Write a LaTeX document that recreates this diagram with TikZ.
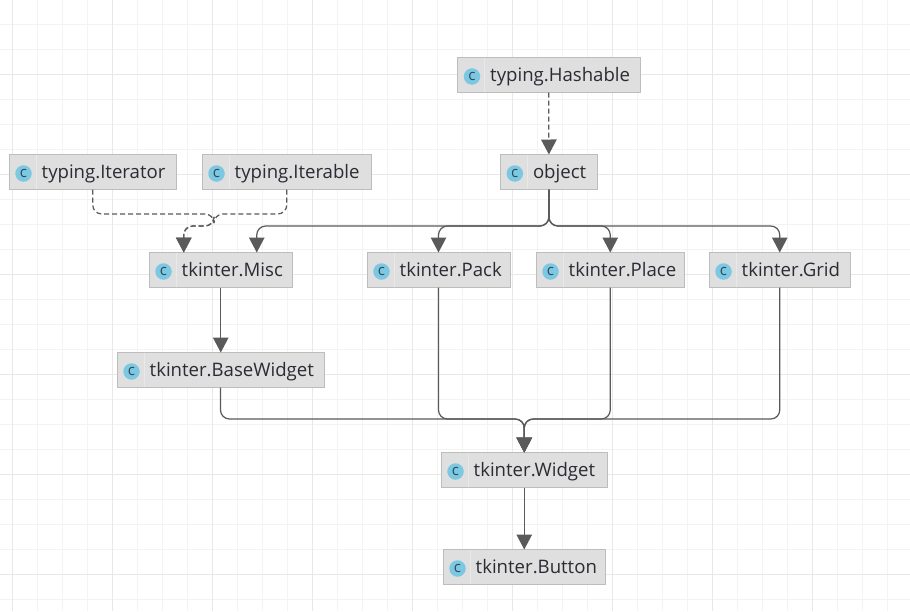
\documentclass[tikz,border=0pt]{standalone}
\usepackage{fontspec}
\setmainfont{Open Sans}
\usetikzlibrary{arrows.meta,calc}
\definecolor{gridmajor}{HTML}{E8E8E8}
\definecolor{gridminor}{HTML}{F3F3F3}
\definecolor{boxfill}{HTML}{DFDFDF}
\definecolor{boxline}{HTML}{BDBDBD}
\definecolor{boxsep}{HTML}{E9E9E9}
\definecolor{iconblue}{HTML}{7CC8E2}
\definecolor{icontext}{HTML}{2F4A5A}
\definecolor{connline}{HTML}{5A5A5A}
\definecolor{labeltext}{HTML}{2B2B33}
\tikzset{
  classbox/.style={draw=boxline,line width=1pt,fill=boxfill,minimum height=35pt,inner sep=0pt,outer sep=0pt,anchor=north west},
  classlabel/.style={anchor=base west,inner sep=0pt,text=labeltext,font=\fontsize{18.6}{20}\selectfont},
  classicon/.style={circle,fill=iconblue,text=icontext,minimum size=16.5pt,inner sep=0pt,font=\fontsize{15}{15}\selectfont},
  inherit/.style={draw=connline,line width=1.25pt,rounded corners=9pt,-{Triangle[length=15pt,width=15.5pt]}},
  impl/.style={inherit,dash pattern=on 5pt off 3pt},
}
% #1 name, #2 left, #3 right, #4 top, #5 label
\newcommand{\classnode}[5]{%
  \pgfmathsetlengthmacro{\boxw}{(#3-#2)*1pt}%
  \node[classbox,minimum width=\boxw] (#1) at (#2,#4) {};
  \draw[boxsep,line width=1pt] ($(#1.north west)+(27pt,-0.5pt)$) -- ($(#1.south west)+(27pt,0.5pt)$);
  \node[classicon] (#1-icon) at ($(#1.west)+(14.5pt,-1.5pt)$) {\raisebox{0.8pt}{c}};
  \node[classlabel] (#1-label) at ($(#1.south west)+(32.5pt,11.5pt)$) {#5};
}
\begin{document}
\begin{tikzpicture}[x=1pt,y=-1pt]
\useasboundingbox (0,0) rectangle (910,611);
\fill[white] (0,0) rectangle (910,611);
\foreach \i in {-1,...,36} \draw[gridminor,line width=1pt] ({12.5+25*\i},0) -- ({12.5+25*\i},611);
\foreach \i in {0,...,24} \draw[gridminor,line width=1pt] (0,{24+25*\i}) -- (910,{24+25*\i});
\foreach \i in {0,...,9} \draw[gridmajor,line width=1pt] ({12.5+100*\i},0) -- ({12.5+100*\i},611);
\foreach \i in {0,...,5} \draw[gridmajor,line width=1pt] (0,{74+100*\i}) -- (910,{74+100*\i});

\classnode{hash}{457.5}{640}{57.5}{typing.Hashable}
\classnode{obj}{500.3}{597.5}{154.5}{object}
\classnode{iter}{9}{176.5}{154.5}{typing.Iterator}
\classnode{able}{202}{371.5}{154.5}{typing.Iterable}
\classnode{misc}{149}{292.5}{252.5}{tkinter.Misc}
\classnode{pack}{367}{510}{252.5}{tkinter.Pack}
\classnode{place}{536}{684.5}{252.5}{tkinter.Place}
\classnode{grid}{709}{850.5}{252.5}{tkinter.Grid}
\classnode{base}{117}{324}{352.5}{tkinter.BaseWidget}
\classnode{widget}{441}{607.5}{452.5}{tkinter.Widget}
\classnode{button}{443}{605}{549.5}{tkinter.Button}

\coordinate (dashbus) at (0,214);
\coordinate (dashjoin) at (214,226);
\coordinate (topbus) at (0,226);
\coordinate (lowbus) at (0,419);
\coordinate (miscL) at ([xshift=-37pt]misc.north);
\coordinate (miscR) at ([xshift=36pt]misc.north);

\draw[impl] (hash.south) -- (obj.north);
\draw[impl] (iter.south) -- (iter.south |- dashbus) -- (dashjoin |- dashbus) -- (dashjoin) -- (miscL |- dashjoin) -- (miscL);
\draw[impl] (able.south) -- (able.south |- dashbus) -- (dashjoin |- dashbus) -- (dashjoin) -- (miscL |- dashjoin) -- (miscL);

\draw[inherit] (obj.south) -- (obj.south |- topbus) -- (miscR |- topbus) -- (miscR);
\draw[inherit] (obj.south) -- (obj.south |- topbus) -- (pack.north |- topbus) -- (pack.north);
\draw[inherit] (obj.south) -- (obj.south |- topbus) -- (place.north |- topbus) -- (place.north);
\draw[inherit] (obj.south) -- (obj.south |- topbus) -- (grid.north |- topbus) -- (grid.north);

\draw[inherit] (misc.south) -- (base.north -| misc.south);
\draw[inherit] (base.south) -- (base.south |- lowbus) -- (widget.north |- lowbus) -- (widget.north);
\draw[inherit] (pack.south) -- (pack.south |- lowbus) -- (widget.north |- lowbus) -- (widget.north);
\draw[inherit] (place.south) -- (place.south |- lowbus) -- (widget.north |- lowbus) -- (widget.north);
\draw[inherit] (grid.south) -- (grid.south |- lowbus) -- (widget.north |- lowbus) -- (widget.north);
\draw[inherit] (widget.south) -- (button.north -| widget.south);
\end{tikzpicture}
\end{document}
